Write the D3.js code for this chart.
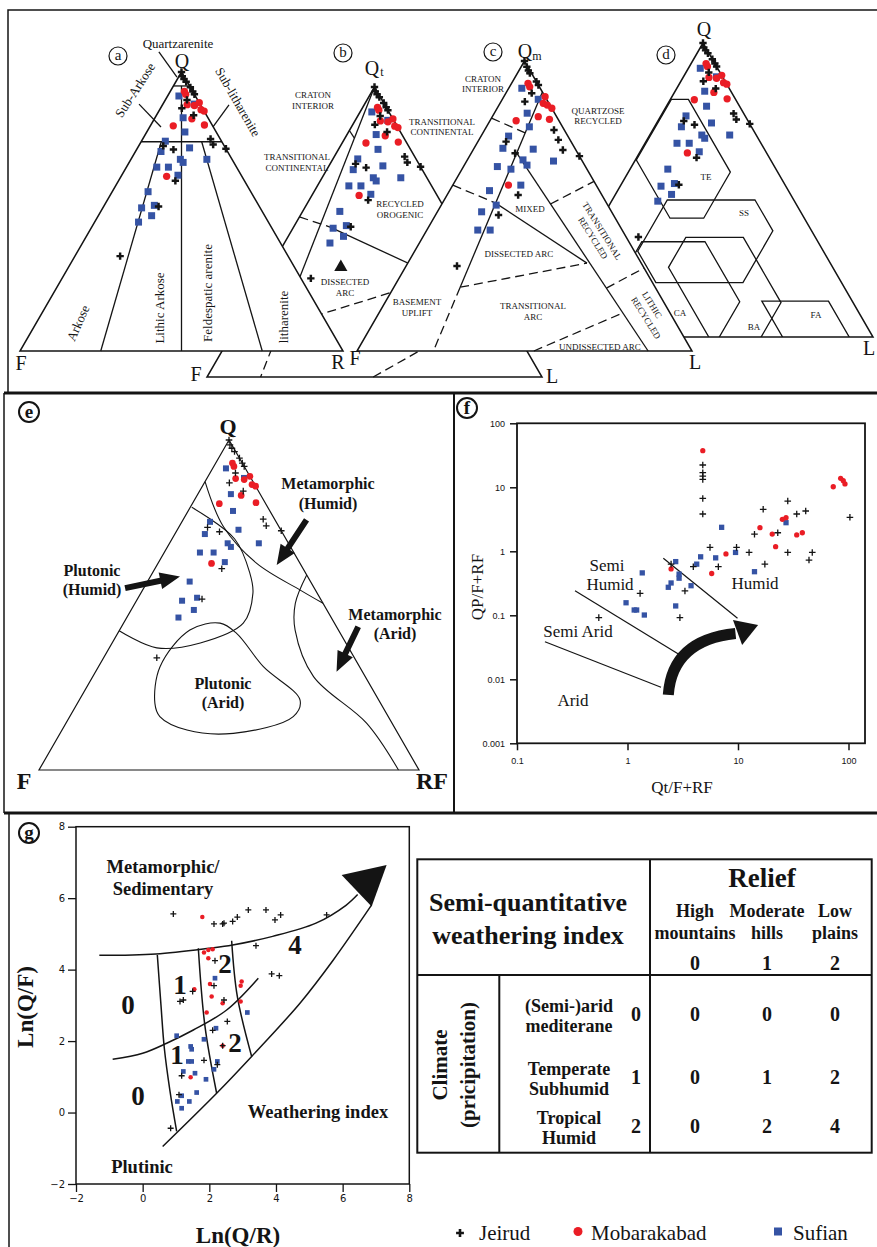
<!DOCTYPE html>
<html>
<head>
<meta charset="utf-8">
<script src="https://cdn.jsdelivr.net/npm/d3@7"></script>
<style>
  body { margin: 0; background: #fff; }
  svg { display: block; }
</style>
</head>
<body>
<div id="root"></div>
<script>
const W = 877;
const H = 1247;
const RED = '#ea1d25';
const BLUE = '#3553a4';
const INK = '#141414';
const SERIF = '"Liberation Serif","Times New Roman",serif';
const SANS = '"Liberation Sans",Arial,sans-serif';

// ---------- Data ----------

// Q-F-L compositions, [Q %, L (or R / RF) %] - used in panels a, b, d, e
const jeirudQFL = [[100,0],[98.5,1],[97.5,2],[96.5,3.2],[94.5,5.5],[93,7],[92,8],[90,6.7],[87,6.6],[84.5,11.5],[76,21],[74,22.8],[72.5,27.5],[73.5,7.6],[72.2,11.4],[61,17.6],[51.8,17],[34,14]];
const mobarakabadQFL = [[93,4.4],[92,5.3],[88.3,7.6],[88,10],[89,11],[86.5,12.8],[86,14],[83.2,11.6],[80.7,7.1],[81,16.6],[62.6,14.1]];
const sufianQFL = [[91.4,3.5],[88.5,9.7],[83.6,8.7],[78.5,11.8],[75.2,7.4],[71.5,7.9],[72.8,16.1],[68.7,15.3],[67.6,16.7],[68.7,23.5],[65.9,9.4],[65.9,13],[63,17.4],[57.1,11.1],[52.2,15.5],[51.3,12],[48.5,16.5],[46.2,13.6]];

// Qm-F-Lt compositions, [Qm %, Lt %] - panel c
const jeirudQmFLt = [[100,0],[98,1.7],[96.7,2.8],[95.8,3.7],[92.9,7.1],[91.7,8.3],[88.9,7.7],[86,7.1],[76.2,20.7],[72.8,23.7],[69.3,26.8],[67.2,32.8],[72.2,8.4],[68.2,13.1],[53.8,21.2],[46.9,18.8],[29.3,15.2]];
const mobarakabadQmFLt = [[92.3,4.9],[91.1,6],[87.7,12.3],[85.4,12.9],[84.8,14.4],[83.7,16.3],[80.8,13.7],[79.4,7.8],[79.9,17.5],[57.2,16.6]];
const sufianQmFLt = [[90.6,3.9],[86.8,10.7],[82,9.8],[77.3,12.8],[74.1,8.2],[69.9,8.6],[69.6,17.8],[65.5,25.9],[65.9,16.6],[64.1,18.7],[63.6,10.1],[62.7,14.6],[57.2,20.3],[55.3,11.9],[50.3,16.4],[48,13.2],[41.7,15.2],[41.7,18.9]];

// Panel f: [Qt/F+RF, QP/F+RF]
const jeirudRatio = [[4.8,22.3],[4.8,16.9],[4.8,15],[4.8,13.3],[4.8,6.7],[4.8,3.83],[5.58,1.15],[3.94,0.575],[6.64,0.575],[2.48,0.63],[3.31,0.24],[1.3,0.22],[0.55,0.092],[2.98,0.092],[9.7,1.15],[12.6,0.96],[14.1,1.85],[16.9,4.53],[17.5,0.63],[22.9,1.95],[28.2,6.1],[28.2,0.96],[34,3.83],[41,4.26],[47,0.96],[43.9,0.73],[103,3.4]];
const mobarakabadRatio = [[4.8,37.3],[2.48,0.53],[5.78,0.45],[7.78,0.91],[15.8,2.34],[20.4,1.86],[21.9,1.18],[25.2,3.16],[27.2,3.35],[34,1.8],[38.2,1.95],[72.8,10.2],[84.9,13.8],[89.7,12.7],[92.9,11.3]];
const sufianRatio = [[1.36,0.46],[0.97,0.157],[1.15,0.121],[1.21,0.121],[1.42,0.101],[2.73,0.69],[2.93,0.44],[2.93,0.38],[2.48,0.32],[2.34,0.274],[2.73,0.14],[3.76,0.29],[4.23,0.63],[4.59,0.82],[6.28,0.79],[7.11,2.37],[9.5,0.96],[14.1,0.48],[27.2,2.8]];
const fXTicks = [0.1, 1, 10, 100];
const fYTicks = [0.001, 0.01, 0.1, 1, 10, 100];

// Panel g: [Ln(Q/R), Ln(Q/F)]
const jeirudLn = [[0.92,5.56],[2.14,5.28],[2.4,5.28],[2.44,5.3],[2.7,5.35],[2.84,5.47],[3.17,5.67],[3.7,5.67],[3.97,5.39],[4.14,5.53],[5.52,5.53],[3.4,4.67],[2.17,4.25],[3.87,3.88],[4.1,3.83],[2.14,3.55],[1.5,3.39],[1.12,3.11],[1.22,3.15],[2.44,3.15],[2.54,2.55],[2.1,2.3],[1.84,1.46],[2.24,1.34],[1.17,1.03],[1.09,0.5],[0.84,-0.44],[2.4,1.87]];
const mobarakabadLn = [[1.79,5.47],[1.84,4.48],[1.97,4.55],[2.1,4.57],[1.97,4.32],[1.55,3.45],[2.02,3.6],[2.07,3.25],[2.4,3.06],[2.94,3.55],[2.97,3.67],[2.94,3.11],[1.92,2.8],[2.4,1.87],[1.44,0.99]];
const sufianLn = [[2.17,3.76],[3.14,2.8],[1.02,2.15],[2.2,2.36],[1.84,2.05],[1.44,1.85],[1.47,1.77],[1.37,1.43],[1.47,1.43],[2.24,1.43],[1.22,1.15],[1.57,1.1],[2.14,1.21],[1.9,0.93],[1.17,0.47],[1.62,0.56],[1.04,0.31],[1.4,0.31],[1.17,0.12]];
const gTicks = [-2, 0, 2, 4, 6, 8];

// Table
const reliefClasses = [['High', 'mountains', 0], ['Moderate', 'hills', 1], ['Low', 'plains', 2]];
const climateClasses = [['(Semi-)arid', 'mediterane', 0], ['Temperate', 'Subhumid', 1], ['Tropical', 'Humid', 2]];
const weatheringIndex = [[0, 0, 0], [0, 1, 2], [0, 2, 4]];

// Field boundaries (ternary [Q, right-corner %])
const aLines = [[[95,0],[95,5]], [[75,0],[75,25]], [[95,2.5],[0,50]], [[75,6.25],[0,25]], [[75,18.75],[0,75]],
  [[88.5,-7.4],[80.3,3.5]], [[88.2,20.6],[80.3,19.6]], [[107.2,-10.6],[98.2,-0.5]]];
const bSolid = [[[85,0],[82.4,2.8]], [[100,0],[10,14.4]], [[51.7,10.9],[24.4,75.6]]];
const bDashed = [[[10,14.4],[0,16]], [[55.2,0],[51.7,10.9]], [[19.5,18.2],[38.4,61.7]], [[0,49.6],[12,62]]];
const bMean = [[37.9, 21]];
const cSolid = [[[89.3,10.7],[22,19.8]], [[51,15.9],[30.3,53.5]], [[68.3,13.5],[0,86.9]]];
const cDashed = [[[22,19.8],[0,22.8]], [[80.3,0],[75.2,12.6]], [[57.2,0],[51,15.9]], [[50.7,32.4],[58.5,41.5]],
  [[22,19.8],[30.3,53.5]], [[21.7,63.6],[28.6,71.4]], [[0,52.8],[13.1,72.8]]];
// hexagon fields in d: [Q range, F range, L range]
const dFields = [
  { name: 'TE', q: [40.4, 80.8], f: [13.9, 39.5], l: [0.3, 30] },
  { name: 'SS', q: [18.5, 46.6], f: [11.4, 54.6], l: [16.2, 52.5] },
  { name: 'CA', q: [-5, 32.4], f: [33.2, 60], l: [15.8, 54.8] },
  { name: 'BA', q: [-5, 33.9], f: [21.2, 48.3], l: [28, 67.1] },
  { name: 'FA', q: [-5, 12.2], f: [7, 26.6], l: [61.2, 95] }
];
const eMetHumid = [[87.4,0],[73.7,11.7],[62.6,26],[54.5,41.5],[50.5,49.5]];
const ePlutHumid = [[79.6,0.4],[70,16.5],[59.6,25.7],[53.6,29.5],[44.5,31.5],[38.5,23.2],[37,12.5],[42.2,0]];
const ePlutArid = [[20.2,20.4],[31.3,16.2],[42.4,18.5],[44.5,25.4],[41.4,31.3],[31.3,43.4],[21.2,58.1],[16.2,58.8],[11.1,45.6],[12.1,32.9],[16.2,23.7]];
const eMetArid = [[59.1,40.9],[50.5,42.2],[42.4,46.2],[28.3,58.1],[14.2,79.1],[0,94.6]];
const eArrows = [[[55.1,-4.9],[58.6,7.8]], [[75.8,32.5],[62.1,31.5]], [[43.4,62.3],[29.8,63.4]]];
const fLines = [[[2.11,0.78],[9.9,0.09]], [[0.335,0.242],[3.09,0.0231]], [[0.179,0.0386],[2.01,0.0075]]];
const fArrow = { start: [2.34,0.0057], ctrl: [2.53,0.041], end: [9.5,0.052], head: [[9.0,0.0845],[15.2,0.0705],[10.9,0.0344]] };
const gUpper = [[-1.3,4.4],[0.4,4.44],[2,4.6],[2.7,4.69],[3.9,4.93],[5.2,5.3],[6.1,5.8],[6.45,6.1]];
const gLower = [[0.6,-0.95],[2.22,0.54],[3.27,1.57],[4.72,3.06],[5.72,4.27],[6.87,5.81]];
const gMid = [[-0.9,1.49],[0,1.66],[0.72,1.94],[1.52,2.31],[2.52,2.87],[3.47,3.76]];
const gBounds = [
  [[0.44,4.41],[0.55,3],[0.65,1.8],[0.82,0.6],[1.02,-0.53]],
  [[1.67,4.6],[1.87,2.41],[2.22,0.54]],
  [[2.67,4.81],[2.84,3.25],[3.27,1.57]]
];
const gHead = [[7.32,6.93],[5.97,6.65],[6.87,5.77]];

// ---------- Helpers ----------

const svg = d3.select('#root').append('svg')
  .attr('width', W).attr('height', H)
  .style('font-family', SERIF);
svg.append('rect').attr('width', W).attr('height', H).attr('fill', '#fff');

function ternary(left, right, baseY, apexY) {
  const x = d3.scaleLinear().domain([0, 100]).range([left, right]);
  const y = d3.scaleLinear().domain([0, 100]).range([baseY, apexY]);
  return ([q, r]) => [x(r + q / 2), y(q)];
}
const corners = [[100, 0], [0, 0], [0, 100]];

function path(g, pts, proj, opts = {}) {
  const line = opts.curve ? d3.line().curve(opts.curve) : d3.line();
  return g.append('path')
    .attr('d', line(pts.map(proj)) + (opts.close ? 'Z' : ''))
    .attr('fill', opts.fill || 'none')
    .attr('stroke', INK)
    .attr('stroke-width', opts.width || 1.3)
    .attr('stroke-dasharray', opts.dash ? '9,5' : null);
}

function markers(g, pts, proj, kind, s) {
  const sel = g.append('g').selectAll('path').data(pts).join('path')
    .attr('transform', (d) => `translate(${proj(d)})`);
  if (kind === 'cross') sel.attr('d', d3.symbol(d3.symbolCross, s)).attr('fill', INK);
  if (kind === 'plus') sel.attr('d', `M${-s},0H${s}M0,${-s}V${s}`).attr('stroke', INK).attr('stroke-width', 1.3);
  if (kind === 'circle') sel.attr('d', d3.symbol(d3.symbolCircle, s)).attr('fill', RED);
  if (kind === 'square') sel.attr('d', d3.symbol(d3.symbolSquare, s)).attr('fill', BLUE);
}

function label(g, x, y, text, size, opts = {}) {
  const t = g.append('text')
    .attr('x', x).attr('y', y)
    .attr('font-size', size)
    .attr('text-anchor', opts.anchor || 'middle')
    .attr('dominant-baseline', 'central')
    .attr('fill', INK)
    .text(text);
  if (opts.bold) t.attr('font-weight', 'bold');
  if (opts.rotate) t.attr('transform', `rotate(${opts.rotate},${x},${y})`);
  if (opts.family) t.attr('font-family', opts.family);
  return t;
}

function circled(g, x, y, letter, bold) {
  g.append('circle').attr('cx', x).attr('cy', y).attr('r', bold ? 10 : 9)
    .attr('fill', 'none').attr('stroke', INK).attr('stroke-width', bold ? 2 : 1.2);
  label(g, x, y - 1, letter, bold ? 19 : 15, { bold });
}

function hexagon({ q: [q0, q1], f: [f0, f1], l: [l0, l1] }) {
  return [[q1, 100 - q1 - f0], [100 - f0 - l1, l1], [q0, l1],
          [q0, 100 - q0 - f1], [100 - f1 - l0, l0], [q1, l0]];
}

function blockArrow(g, [x1, y1], [x2, y2], shaft, headL, headW) {
  const a = Math.atan2(y2 - y1, x2 - x1) * 180 / Math.PI;
  const len = Math.hypot(x2 - x1, y2 - y1);
  const pts = [[0, -shaft / 2], [len - headL, -shaft / 2], [len - headL, -headW / 2], [len, 0],
               [len - headL, headW / 2], [len - headL, shaft / 2], [0, shaft / 2]];
  g.append('path').attr('d', d3.line()(pts) + 'Z').attr('fill', INK)
    .attr('transform', `translate(${x1},${y1}) rotate(${a})`);
}

function samples(g, proj, sets, sizes) {
  markers(g, sets[2], proj, 'square', sizes[2]);
  markers(g, sets[1], proj, 'circle', sizes[1]);
  markers(g, sets[0], proj, sizes[3] || 'cross', sizes[0]);
}

const QFL = [jeirudQFL, mobarakabadQFL, sufianQFL];

// ---------- Panel b (Qt-F-L), underneath a and c ----------
const pB = ternary(207, 542, 377, 87);
const gB = svg.append('g');
path(gB, corners, pB, { close: true, fill: '#fff', width: 1.5 });
bSolid.forEach((l) => path(gB, l, pB));
bDashed.forEach((l) => path(gB, l, pB, { dash: true }));
samples(gB, pB, QFL, [30, 42, 49]);
gB.selectAll('.mean').data(bMean).join('path')
  .attr('transform', (d) => `translate(${pB(d)})`)
  .attr('d', d3.symbol(d3.symbolTriangle, 75)).attr('fill', INK);

// ---------- Panel d (Q-F-L tectonic fields) ----------
const pD = ternary(533, 873, 337, 43);
const gD = svg.append('g');
svg.append('clipPath').attr('id', 'clipD').append('path')
  .attr('d', d3.line()(corners.map(pD)) + 'Z');
path(gD, corners, pD, { close: true, fill: '#fff', width: 1.5 });
const gDf = gD.append('g').attr('clip-path', 'url(#clipD)');
dFields.forEach((f) => path(gDf, hexagon(f), pD, { close: true, width: 1.3 }));
samples(gD, pD, QFL, [30, 42, 49]);

// ---------- Panel a (Q-F-R) ----------
const pA = ternary(20, 343, 351, 72);
const gA = svg.append('g');
path(gA, corners, pA, { close: true, fill: '#fff', width: 1.5 });
aLines.forEach((l) => path(gA, l, pA));
samples(gA, pA, QFL, [30, 42, 49]);

// ---------- Panel c (Qm-F-Lt) ----------
const pC = ternary(357, 692, 351, 61);
const gC = svg.append('g');
path(gC, corners, pC, { close: true, fill: '#fff', width: 1.5 });
cSolid.forEach((l) => path(gC, l, pC));
cDashed.forEach((l) => path(gC, l, pC, { dash: true }));
samples(gC, pC, [jeirudQmFLt, mobarakabadQmFLt, sufianQmFLt], [30, 42, 49]);

// ---------- Top panel labels ----------
const gT = svg.append('g');
circled(gT, 118, 56, 'a');
circled(gT, 343, 53, 'b');
circled(gT, 493, 52, 'c');
circled(gT, 666, 55, 'd');
label(gT, 178, 43, 'Quartzarenite', 13);
label(gT, 182, 61, 'Q', 20);
label(gT, 135, 90, 'Sub-Arkose', 13, { rotate: -57 });
label(gT, 238, 102, 'Sub-litharenite', 13, { rotate: 60 });
label(gT, 78, 323, 'Arkose', 13, { rotate: -66 });
label(gT, 159, 308, 'Lithic Arkose', 13, { rotate: -90 });
label(gT, 207, 293, 'Feldespatic arenite', 13, { rotate: -90 });
label(gT, 283, 317, 'litharenite', 13, { rotate: -90 });
label(gT, 21, 363, 'F', 20);
label(gT, 196, 374, 'F', 20);
label(gT, 338, 362, 'R', 20);
label(gT, 355, 358, 'F', 20);
label(gT, 552, 376, 'L', 20);
label(gT, 695, 362, 'L', 20);
label(gT, 869, 348, 'L', 20);
label(gT, 372, 68, 'Q', 20);
label(gT, 382, 72, 't', 12);
label(gT, 525, 51, 'Q', 20);
label(gT, 537, 56, 'm', 12);
label(gT, 704, 29, 'Q', 20);
const smallCaps = [
  ['CRATON', 313, 95], ['INTERIOR', 313, 106],
  ['TRANSITIONAL', 297, 157], ['CONTINENTAL', 297, 168],
  ['TRANSITIONAL', 442, 122], ['CONTINENTAL', 442, 132],
  ['RECYCLED', 400, 204], ['OROGENIC', 400, 215],
  ['DISSECTED', 345, 282], ['ARC', 345, 293],
  ['BASEMENT', 417, 302], ['UPLIFT', 417, 313],
  ['CRATON', 483, 79], ['INTERIOR', 483, 89],
  ['QUARTZOSE', 598, 111], ['RECYCLED', 598, 121],
  ['MIXED', 530, 209],
  ['DISSECTED ARC', 519, 254],
  ['TRANSITIONAL', 533, 306], ['ARC', 533, 317],
  ['UNDISSECTED ARC', 600, 347],
  ['TE', 706, 177], ['SS', 744, 213], ['CA', 680, 313], ['BA', 754, 327], ['FA', 816, 315]
];
smallCaps.forEach(([t, x, y]) => label(gT, x, y, t, 9));
label(gT, 602, 231, 'TRANSITIONAL', 9, { rotate: 58 });
label(gT, 593, 238, 'RECYCLED', 9, { rotate: 58 });
label(gT, 652, 305, 'LITHIC', 9, { rotate: 58 });
label(gT, 646, 318, 'RECYCLED', 9, { rotate: 58 });

// ---------- Panel e (Q-F-RF climate / source) ----------
const pE = ternary(39, 419, 770, 440);
const gE = svg.append('g');
path(gE, corners, pE, { close: true, width: 1.2 });
path(gE, eMetHumid, pE, { curve: d3.curveCatmullRom, width: 1.1 });
path(gE, ePlutHumid, pE, { curve: d3.curveCatmullRom, width: 1.1 });
path(gE, ePlutArid, pE, { curve: d3.curveCatmullRomClosed, width: 1.1 });
path(gE, eMetArid, pE, { curve: d3.curveCatmullRom, width: 1.1 });
eArrows.forEach(([a, b]) => blockArrow(gE, pE(a), pE(b), 6, 20, 17));
samples(gE, pE, QFL, [3.3, 35, 36, 'plus']);
circled(gE, 29, 412, 'e', true);
label(gE, 228, 426, 'Q', 22, { bold: true });
label(gE, 24, 781, 'F', 24, { bold: true });
label(gE, 432, 781, 'RF', 24, { bold: true });
label(gE, 328, 483, 'Metamorphic', 16, { bold: true });
label(gE, 328, 503, '(Humid)', 16, { bold: true });
label(gE, 92, 570, 'Plutonic', 16, { bold: true });
label(gE, 92, 589, '(Humid)', 16, { bold: true });
label(gE, 395, 614, 'Metamorphic', 16, { bold: true });
label(gE, 395, 633, '(Arid)', 16, { bold: true });
label(gE, 223, 683, 'Plutonic', 16, { bold: true });
label(gE, 223, 702, '(Arid)', 16, { bold: true });

// ---------- Panel f (log-log climate plot) ----------
const fx = d3.scaleLog().domain([0.1, 100]).range([517, 848.5]);
const fy = d3.scaleLog().domain([0.001, 100]).range([743.3, 423.3]);
const pF = ([a, b]) => [fx(a), fy(b)];
const gF = svg.append('g');
gF.append('rect').attr('x', 517).attr('y', 423.3).attr('width', 348).attr('height', 320)
  .attr('fill', 'none').attr('stroke', INK).attr('stroke-width', 1.8);
const fyAxis = gF.append('g').attr('transform', 'translate(517,0)')
  .call(d3.axisLeft(fy).tickValues(fYTicks).tickFormat(d3.format('~g')).tickSize(7).tickPadding(5));
const fxAxis = gF.append('g').attr('transform', 'translate(0,743.3)')
  .call(d3.axisBottom(fx).tickValues(fXTicks).tickFormat(d3.format('~g')).tickSize(7).tickPadding(7));
[fyAxis, fxAxis].forEach((ax) => {
  ax.select('.domain').remove();
  ax.selectAll('line').attr('stroke', INK).attr('stroke-width', 1.5);
  ax.selectAll('text').attr('font-family', SANS).attr('font-size', 9).attr('fill', INK);
});
fLines.forEach((l) => path(gF, l, pF, { width: 1.2 }));
{
  const [s, c, e] = [fArrow.start, fArrow.ctrl, fArrow.end].map(pF);
  gF.append('path').attr('d', `M${s}Q${c} ${e}`)
    .attr('fill', 'none').attr('stroke', INK).attr('stroke-width', 11);
  gF.append('path').attr('d', d3.line()(fArrow.head.map(pF)) + 'Z').attr('fill', INK);
}
samples(gF, pF, [jeirudRatio, mobarakabadRatio, sufianRatio], [3.3, 22, 28, 'plus']);
circled(gF, 467, 408, 'f', true);
label(gF, 682, 787, 'Qt/F+RF', 17);
label(gF, 477, 587, 'QP/F+RF', 17, { rotate: -90 });
label(gF, 607, 565, 'Semi', 17);
label(gF, 610, 584, 'Humid', 17);
label(gF, 578, 631, 'Semi Arid', 17);
label(gF, 573, 700, 'Arid', 17);
label(gF, 755, 583, 'Humid', 17);

// ---------- Panel g (log-ratio weathering plot) ----------
const gx = d3.scaleLinear().domain([-2, 8]).range([76, 409.3]);
const gy = d3.scaleLinear().domain([-2, 8]).range([1184, 826.7]);
const pG = ([a, b]) => [gx(a), gy(b)];
const gG = svg.append('g');
gG.append('rect').attr('x', 76).attr('y', 826.7).attr('width', 333.3).attr('height', 357.3)
  .attr('fill', 'none').attr('stroke', INK).attr('stroke-width', 1.5);
const gyAxis = gG.append('g').attr('transform', 'translate(76,0)')
  .call(d3.axisLeft(gy).tickValues(gTicks).tickSize(8).tickPadding(3));
const gxAxis = gG.append('g').attr('transform', 'translate(0,1184)')
  .call(d3.axisBottom(gx).tickValues(gTicks).tickSize(8).tickPadding(3));
[gyAxis, gxAxis].forEach((ax) => {
  ax.select('.domain').remove();
  ax.selectAll('line').attr('stroke', INK).attr('stroke-width', 1.3);
  ax.selectAll('text').attr('font-family', '"DejaVu Sans",sans-serif').attr('font-size', 10).attr('fill', INK);
});
path(gG, gUpper, pG, { curve: d3.curveCatmullRom, width: 1.5 });
path(gG, gLower, pG, { curve: d3.curveCatmullRom, width: 1.5 });
path(gG, gMid, pG, { curve: d3.curveCatmullRom, width: 1.5 });
gBounds.forEach((b) => path(gG, b, pG, { curve: d3.curveCatmullRom, width: 1.5 }));
gG.append('path').attr('d', d3.line()(gHead.map(pG)) + 'Z').attr('fill', INK);
samples(gG, pG, [jeirudLn, mobarakabadLn, sufianLn], [3, 16, 22, 'plus']);
circled(gG, 29, 833, 'g', true);
label(gG, 163, 867, 'Metamorphic/', 18.5, { bold: true });
label(gG, 163, 889, 'Sedimentary', 18.5, { bold: true });
label(gG, 318, 1112, 'Weathering index', 18.5, { bold: true });
label(gG, 142, 1167, 'Plutinic', 18.5, { bold: true });
[['4', 295, 945], ['2', 225, 964], ['1', 180, 985], ['0', 128, 1005],
 ['1', 177, 1055], ['2', 235, 1043], ['0', 138, 1096]]
  .forEach(([t, x, y]) => label(gG, x, y, t, 27, { bold: true }));
label(gG, 238, 1235, 'Ln(Q/R)', 23, { bold: true });
label(gG, 25, 1007, 'Ln(Q/F)', 23, { bold: true, rotate: -90 });

// ---------- Weathering index table ----------
const gTab = svg.append('g');
const tb = { l: 417.3, t: 859.3, r: 871.7, b: 1152.7, mid: 975, col: 650, sub: 499.3 };
gTab.append('rect').attr('x', tb.l).attr('y', tb.t).attr('width', tb.r - tb.l).attr('height', tb.b - tb.t)
  .attr('fill', 'none').attr('stroke', INK).attr('stroke-width', 2);
gTab.append('path')
  .attr('d', `M${tb.l},${tb.mid}H${tb.r}M${tb.col},${tb.t}V${tb.b}M${tb.sub},${tb.mid}V${tb.b}`)
  .attr('stroke', INK).attr('stroke-width', 2);
label(gTab, 528, 902, 'Semi-quantitative', 26, { bold: true });
label(gTab, 528, 935, 'weathering index', 26, { bold: true });
label(gTab, 762, 878, 'Relief', 27, { bold: true });
const colX = [695, 767, 835];
const rowY = [1014, 1077, 1126];
reliefClasses.forEach(([a, b, v], i) => {
  label(gTab, colX[i], 911, a, 18, { bold: true });
  label(gTab, colX[i], 933, b, 18, { bold: true });
  label(gTab, colX[i], 963, v, 20, { bold: true });
});
climateClasses.forEach(([a, b, v], i) => {
  label(gTab, 569, rowY[i] - 8, a, 18, { bold: true });
  label(gTab, 569, rowY[i] + 12, b, 18, { bold: true });
  label(gTab, 636, rowY[i], v, 20, { bold: true });
  weatheringIndex[i].forEach((w, j) => label(gTab, colX[j], rowY[i], w, 20, { bold: true }));
});
label(gTab, 440, 1065, 'Climate', 21, { bold: true, rotate: -90 });
label(gTab, 468, 1065, '(pricipitation)', 21, { bold: true, rotate: -90 });

// ---------- Legend ----------
const gL = svg.append('g');
gL.append('path').attr('transform', 'translate(460,1233)').attr('d', d3.symbol(d3.symbolCross, 34)).attr('fill', INK);
label(gL, 479, 1233, 'Jeirud', 21, { anchor: 'start' });
gL.append('circle').attr('cx', 578).attr('cy', 1231.5).attr('r', 4.5).attr('fill', RED);
label(gL, 591, 1233, 'Mobarakabad', 21, { anchor: 'start' });
gL.append('rect').attr('x', 774).attr('y', 1227.5).attr('width', 8).attr('height', 8).attr('fill', BLUE);
label(gL, 793, 1233, 'Sufian', 21, { anchor: 'start' });

// ---------- Panel frames ----------
const fr = svg.append('g').attr('stroke', INK).attr('fill', 'none');
fr.append('path').attr('d', 'M8,393V10H877').attr('stroke-width', 1.5);
fr.append('path').attr('d', 'M4,393V813').attr('stroke-width', 1.5);
fr.append('path').attr('d', 'M9,813V1247').attr('stroke-width', 1.5);
fr.append('path').attr('d', 'M4,393H877M4,813H877').attr('stroke-width', 3);
fr.append('path').attr('d', 'M454,393V813').attr('stroke-width', 2);
</script>
</body>
</html>
